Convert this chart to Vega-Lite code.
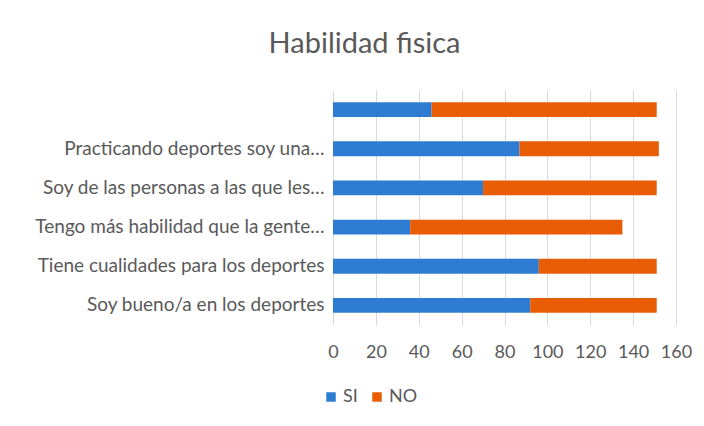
{
  "$schema": "https://vega.github.io/schema/vega-lite/v6.json",
  "width": 343,
  "height": 235,
  "autosize": {"type": "none"},
  "padding": {"left": 333, "top": 90, "right": 28, "bottom": 101},
  "background": "white",
  "title": {
    "text": "Habilidad fisica",
    "anchor": "middle",
    "frame": "group",
    "dx": -140,
    "offset": 8,
    "baseline": "alphabetic",
    "font": "Lato",
    "fontSize": 29,
    "fontWeight": "normal",
    "color": "#595959"
  },
  "data": {
    "values": [
      {"pregunta": "", "serie": "SI", "valor": 46},
      {"pregunta": "", "serie": "NO", "valor": 105},
      {"pregunta": "Practicando deportes soy una…", "serie": "SI", "valor": 87},
      {"pregunta": "Practicando deportes soy una…", "serie": "NO", "valor": 65},
      {"pregunta": "Soy de las personas a las que les…", "serie": "SI", "valor": 70},
      {"pregunta": "Soy de las personas a las que les…", "serie": "NO", "valor": 81},
      {"pregunta": "Tengo más habilidad que la gente…", "serie": "SI", "valor": 36},
      {"pregunta": "Tengo más habilidad que la gente…", "serie": "NO", "valor": 99},
      {"pregunta": "Tiene cualidades para los deportes", "serie": "SI", "valor": 96},
      {"pregunta": "Tiene cualidades para los deportes", "serie": "NO", "valor": 55},
      {"pregunta": "Soy bueno/a en los deportes", "serie": "SI", "valor": 92},
      {"pregunta": "Soy bueno/a en los deportes", "serie": "NO", "valor": 59}
    ]
  },
  "mark": {"type": "bar"},
  "encoding": {
    "y": {
      "field": "pregunta",
      "type": "nominal",
      "sort": ["", "Practicando deportes soy una…", "Soy de las personas a las que les…", "Tengo más habilidad que la gente…", "Tiene cualidades para los deportes", "Soy bueno/a en los deportes"],
      "scale": {"paddingInner": 0.62, "paddingOuter": 0.31},
      "axis": {
        "title": null,
        "ticks": false,
        "domain": false,
        "grid": false,
        "labelPadding": 9,
        "labelFont": "Lato",
        "labelFontSize": 19,
        "labelColor": "#595959",
        "labelLimit": 400
      }
    },
    "x": {
      "field": "valor",
      "type": "quantitative",
      "stack": "zero",
      "scale": {"domain": [0, 160], "nice": false},
      "axis": {
        "title": null,
        "values": [0, 20, 40, 60, 80, 100, 120, 140, 160],
        "ticks": false,
        "domain": false,
        "grid": true,
        "gridColor": "#d9d9d9",
        "gridWidth": 1,
        "labelPadding": 18,
        "labelFont": "Lato",
        "labelFontSize": 18,
        "labelColor": "#595959",
        "labelFlush": false
      }
    },
    "color": {
      "field": "serie",
      "type": "nominal",
      "scale": {"domain": ["SI", "NO"], "range": ["#2E7CD1", "#E85D04"]},
      "legend": {
        "title": null,
        "orient": "none",
        "direction": "horizontal",
        "legendX": -11,
        "legendY": 298,
        "symbolType": "square",
        "symbolSize": 90,
        "symbolStrokeWidth": 0,
        "labelFont": "Lato",
        "labelFontSize": 18,
        "labelColor": "#595959",
        "labelOffset": 3,
        "columnPadding": 10
      }
    },
    "order": {"field": "serie", "sort": "descending"}
  },
  "config": {"view": {"stroke": null}}
}
